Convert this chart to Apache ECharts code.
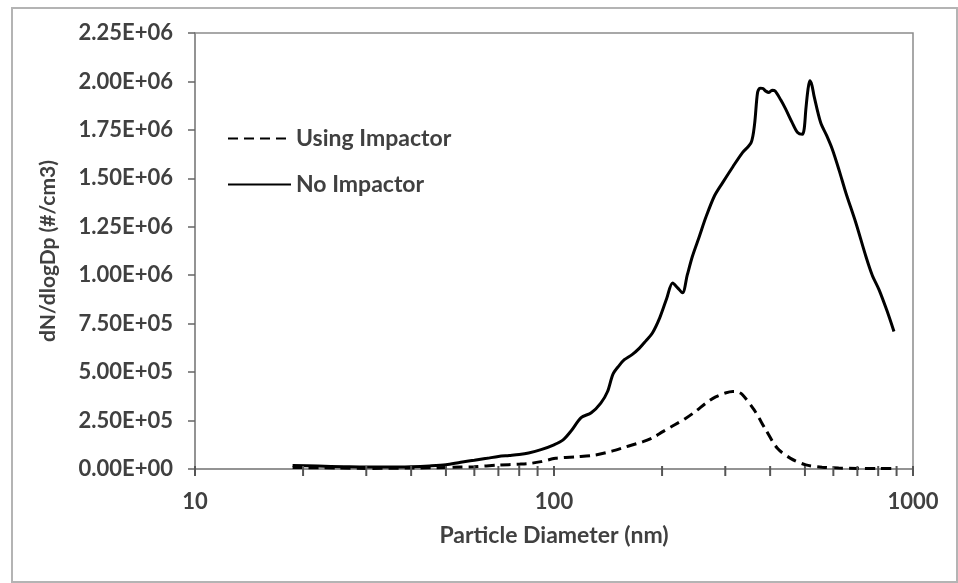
<!DOCTYPE html>
<html>
<head>
<meta charset="utf-8">
<script src="https://cdn.jsdelivr.net/npm/echarts@6/dist/echarts.min.js"></script>
<style>
html,body{margin:0;padding:0;background:#fff;}
#chart{width:958px;height:583px;}
</style>
</head>
<body>
<div id="chart"></div>
<script>
// Particle diameters (nm) and dN/dlogDp (#/cm3)
const noImpactorDp = [18.7, 22, 26, 30, 35, 40, 45, 50, 55, 60, 65, 70, 75, 80, 85, 92, 100, 106, 112, 119, 127, 135, 141, 146, 152, 157, 165, 173, 180, 188, 197, 206, 214, 221, 228, 235, 243, 254, 265, 280, 295, 315, 335, 354, 362, 369, 375, 381, 389, 397, 405, 413, 428, 442, 460, 477, 492, 498, 503, 510, 516, 523, 530, 553, 575, 596, 623, 650, 693, 739, 770, 804, 845, 885];
const noImpactorVal = [18000, 15000, 12000, 10000, 10000, 12000, 16000, 22000, 35000, 45000, 55000, 65000, 70000, 75000, 83000, 100000, 125000, 150000, 200000, 265000, 290000, 340000, 400000, 490000, 535000, 564000, 590000, 624000, 660000, 702000, 780000, 880000, 960000, 935000, 909000, 1000000, 1098000, 1200000, 1300000, 1410000, 1478000, 1560000, 1633000, 1684000, 1780000, 1943000, 1965000, 1964000, 1950000, 1943000, 1955000, 1951000, 1905000, 1857000, 1790000, 1736000, 1727000, 1760000, 1857000, 1960000, 2003000, 1980000, 1926000, 1788000, 1720000, 1650000, 1540000, 1426000, 1271000, 1098000, 1000000, 926000, 820000, 710000];

const impactorDp = [18.7, 25, 30, 40, 50, 55, 60, 70, 80, 86, 92, 101, 115, 130, 145, 159, 177, 190, 201, 217, 233, 249, 265, 282, 300, 315, 325, 335, 361, 389, 419, 456, 503, 558, 621, 700, 800, 890];
const impactorVal = [8000, 5000, 3000, 5000, 8000, 10000, 12000, 20000, 25000, 29000, 38000, 55000, 63000, 72000, 92000, 115000, 141000, 165000, 193000, 228000, 262000, 300000, 340000, 372000, 392000, 400000, 398000, 383000, 305000, 202000, 107000, 55000, 21000, 9000, 5000, 3000, 2000, 2000];

const seriesNames = ['Using Impactor', 'No Impactor'];
const xMinorTicks = [10, 20, 30, 40, 50, 60, 70, 80, 90, 100, 200, 300, 400, 500, 600, 700, 800, 900, 1000];

const zip = (a, b) => a.map((v, i) => [v, b[i]]);

function fmtE(v) {
  let s = Number(v).toExponential(2).toUpperCase();
  const m = s.match(/^(-?[\d.]+)E([+-])(\d+)$/);
  if (!m) return s;
  return m[1] + 'E' + m[2] + (m[3].length < 2 ? '0' + m[3] : m[3]);
}

const FONT = 'Lato';
const TXT = '#404040';
const AX = '#8c8c8c';
const FS = 22;

const chart = echarts.init(document.getElementById('chart'), null, {renderer: 'canvas'});
chart.setOption({
  backgroundColor: '#fff',
  animation: false,
  graphic: [{
    type: 'rect', left: 11, top: 7, silent: true, z: -1,
    shape: {width: 945, height: 574},
    style: {fill: 'transparent', stroke: '#b4b4b4', lineWidth: 2}
  }],
  grid: {left: 195, right: 45, top: 33, bottom: 114, show: true, borderColor: AX, borderWidth: 1.5, backgroundColor: 'transparent'},
  legend: {
    orient: 'vertical', left: 222, top: 122, itemGap: 23,
    itemWidth: 63, itemHeight: 14,
    data: seriesNames,
    itemStyle: {color: 'rgba(0,0,0,0)', borderWidth: 0, borderColor: 'rgba(0,0,0,0)'},
    textStyle: {fontFamily: FONT, fontWeight: 'bold', fontSize: 23, color: TXT}
  },
  xAxis: {
    type: 'log', logBase: 10, min: 10, max: 1000,
    name: 'Particle Diameter (nm)', nameLocation: 'middle', nameGap: 55,
    nameTextStyle: {fontFamily: FONT, fontWeight: 'bold', fontSize: 23, color: TXT},
    axisLine: {show: true, lineStyle: {color: AX, width: 1.5}},
    axisTick: {show: false},
    axisLabel: {margin: 22, fontFamily: FONT, fontWeight: 'bold', fontSize: FS, color: TXT, formatter: v => String(v)},
    splitLine: {show: false}
  },
  yAxis: {
    type: 'value', min: 0, max: 2250000, interval: 250000,
    name: 'dN/dlogDp (#/cm3)', nameLocation: 'middle', nameGap: 136,
    nameTextStyle: {fontFamily: FONT, fontWeight: 'bold', fontSize: 21, color: TXT},
    axisLine: {show: true, lineStyle: {color: AX, width: 1.5}},
    axisTick: {show: true, length: 7, lineStyle: {color: '#666', width: 1.5}},
    axisLabel: {margin: 22, fontFamily: FONT, fontWeight: 'bold', fontSize: FS, color: TXT, formatter: fmtE},
    splitLine: {show: false}
  },
  series: [{
    // log-axis major/minor tick marks crossing the x axis, placed through the axis scale
    name: 'xTicks', type: 'custom', silent: true, clip: false, z: 5,
    data: xMinorTicks.map(v => [v, 0]),
    renderItem: function (params, api) {
      const p = api.coord([api.value(0), 0]);
      return {
        type: 'rect',
        shape: {x: p[0] - 1, y: p[1] - 3, width: 2, height: 10},
        style: {fill: '#555555'},
        z2: 100
      };
    }
  }, {
    name: seriesNames[0], type: 'line', showSymbol: false, symbol: 'none', smooth: 0.3, z: 2,
    data: zip(impactorDp, impactorVal),
    lineStyle: {color: '#000', width: 3, type: [10, 6]},
    itemStyle: {color: '#000'}
  }, {
    name: seriesNames[1], type: 'line', showSymbol: false, symbol: 'none', smooth: 0.3, z: 2,
    data: zip(noImpactorDp, noImpactorVal),
    lineStyle: {color: '#000', width: 3, type: 'solid'},
    itemStyle: {color: '#000'}
  }]
});
</script>
</body>
</html>
